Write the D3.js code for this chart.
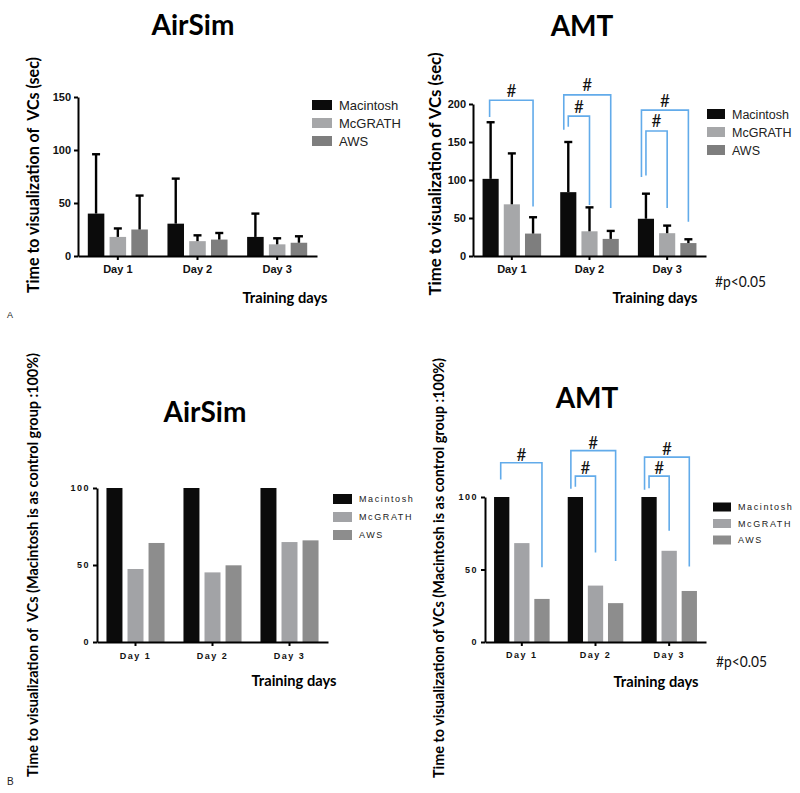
<!DOCTYPE html>
<html><head><meta charset="utf-8">
<script src="https://cdn.jsdelivr.net/npm/d3@7"></script>
<style>body{margin:0;background:#fff} svg{display:block}</style>
</head><body>
<svg id="chart" width="800" height="793"></svg>
<script>
// ---------- DATA ----------
const days = ["Day 1", "Day 2", "Day 3"];
const seriesNames = ["Macintosh", "McGRATH", "AWS"];

// Panel A: time to visualization of VCs (sec), mean and mean+SD
const airsimSecMac = [40, 30.5, 18];
const airsimSecMcG = [18, 14, 11];
const airsimSecAWS = [25, 15.5, 12.5];
const airsimSecMacErr = [96, 73, 40];
const airsimSecMcGErr = [26, 19.5, 16.7];
const airsimSecAWSErr = [57, 21.7, 18.6];

const amtSecMac = [101.5, 84, 49];
const amtSecMcG = [68, 32.5, 30];
const amtSecAWS = [29.5, 22.5, 17];
const amtSecMacErr = [176, 150, 82];
const amtSecMcGErr = [135, 64, 40];
const amtSecAWSErr = [51, 33, 22];

// Panel B: relative to Macintosh (100%)
const airsimPctMac = [100, 100, 100];
const airsimPctMcG = [47.4, 45.2, 64.9];
const airsimPctAWS = [64.3, 49.8, 66];

const amtPctMac = [100, 100, 100];
const amtPctMcG = [68.2, 38.9, 62.9];
const amtPctAWS = [29.7, 26.8, 35.2];

// significance brackets: [dayIndex, fromSeries, toSeries, topValue, leftEndValue, rightEndValue]
const amtSecBrackets = [
  [0, 0, 2, 205, 183, 65],
  [1, 0, 2, 212, 166, 63],
  [1, 0, 1, 184, 170, 67],
  [2, 0, 2, 192, 104, 45],
  [2, 0, 1, 164.5, 106, 63]
];
const amtPctBrackets = [
  [0, 0, 2, 123.6, 112, 51.5],
  [1, 0, 2, 132, 105.7, 55.8],
  [1, 0, 1, 114.4, 107, 61.8],
  [2, 0, 2, 127.5, 105, 52],
  [2, 0, 1, 114.4, 106, 76.7]
];

const yTicksA1 = [0, 50, 100, 150];
const yTicksA2 = [0, 50, 100, 150, 200];
const yTicksB = [0, 50, 100];

// ---------- DRAW ----------
const svg = d3.select("#chart");
const titleFont = "Lato, 'Open Sans', sans-serif";
const tickFont = "'Liberation Sans', Arial, sans-serif";

function panel(cfg) {
  const g = svg.append("g");
  const x = d3.scaleBand().domain(days).range([cfg.x0, cfg.x1]);
  const xi = d3.scaleBand().domain(seriesNames).range([0, x.bandwidth()])
    .paddingInner(0.24).paddingOuter(0.45);
  const y = d3.scaleLinear().domain([0, cfg.ymax]).range([cfg.yBase, cfg.yTop]);
  const cx = (di, si) => x(days[di]) + xi(seriesNames[si]) + xi.bandwidth() / 2;

  // bars
  cfg.values.forEach((vals, si) => {
    g.append("g").selectAll("rect").data(vals).join("rect")
      .attr("x", (d, i) => x(days[i]) + xi(seriesNames[si]))
      .attr("y", d => y(d))
      .attr("width", xi.bandwidth())
      .attr("height", d => y(0) - y(d))
      .attr("fill", cfg.colors[si]);
  });

  // error bars
  if (cfg.errs) {
    cfg.errs.forEach((errs, si) => {
      const eg = g.append("g").attr("stroke", "#000").attr("stroke-width", 2.4);
      errs.forEach((e, i) => {
        const xc = cx(i, si);
        eg.append("line").attr("x1", xc).attr("x2", xc)
          .attr("y1", y(cfg.values[si][i])).attr("y2", y(e));
        eg.append("line").attr("x1", xc - 4).attr("x2", xc + 4)
          .attr("y1", y(e)).attr("y2", y(e));
      });
    });
  }

  // axes
  const yAx = g.append("g").attr("transform", `translate(${cfg.x0},0)`)
    .call(d3.axisLeft(y).tickValues(cfg.yTicks).tickSize(4).tickSizeOuter(0).tickPadding(cfg.yPad));
  const xAx = g.append("g").attr("transform", `translate(0,${cfg.yBase})`)
    .call(d3.axisBottom(x).tickSize(4).tickSizeOuter(0).tickPadding(cfg.xPad));
  [yAx, xAx].forEach(a => {
    a.select(".domain").attr("stroke", "#000").attr("stroke-width", 2);
    a.selectAll(".tick line").attr("stroke", "#000").attr("stroke-width", 2);
    a.selectAll(".tick text").attr("fill", "#111")
      .style("font-family", tickFont).style("font-weight", "bold")
      .style("font-size", cfg.tickSize + "px")
      .style("letter-spacing", cfg.tickSpacing + "px");
  });

  // brackets
  if (cfg.brackets) {
    const bg = g.append("g");
    cfg.brackets.forEach(b => {
      const [di, from, to, top, yl, yr] = b;
      const multi = cfg.brackets.filter(c => c[0] === di).length > 1;
      let off = -1;
      if (multi) off = (to === 2) ? -4.5 : 0;
      const xl = cx(di, from) + off;
      const xr = cx(di, to) + (to === 2 ? 0 : 0);
      bg.append("path")
        .attr("d", `M${xl},${y(yl)}V${y(top)}H${xr}V${y(yr)}`)
        .attr("fill", "none").attr("stroke", "#62abea").attr("stroke-width", 1.6);
      bg.append("text").attr("x", (xl + xr) / 2).attr("y", y(top) - cfg.hashGap)
        .attr("text-anchor", "middle")
        .style("font-family", titleFont).style("font-size", "17px").attr("fill", "#111")
        .text("#");
    });
  }

  // legend
  const lg = g.append("g");
  seriesNames.forEach((s, i) => {
    const yc = cfg.leg.y + i * cfg.leg.dy;
    lg.append("rect").attr("x", cfg.leg.x).attr("y", yc - cfg.leg.h / 2)
      .attr("width", cfg.leg.w).attr("height", cfg.leg.h).attr("fill", cfg.colors[i]);
    lg.append("text").attr("x", cfg.leg.tx).attr("y", yc).attr("dy", "0.36em")
      .style("font-family", tickFont).style("font-size", cfg.leg.fs + "px")
      .style("letter-spacing", cfg.leg.ls + "px").attr("fill", "#222").text(s);
  });

  // title
  g.append("text").attr("x", cfg.title.x).attr("y", cfg.title.y).attr("text-anchor", "middle")
    .style("font-family", titleFont).style("font-weight", "bold").style("font-size", "28px")
    .attr("fill", "#000").text(cfg.title.text);

  // y label
  g.append("text")
    .attr("transform", `translate(${cfg.ylab.x},${cfg.ylab.y}) rotate(-90)`)
    .attr("text-anchor", "middle")
    .attr("textLength", cfg.ylab.len).attr("lengthAdjust", "spacingAndGlyphs")
    .style("font-family", titleFont).style("font-weight", "bold")
    .style("font-size", cfg.ylab.fs + "px").style("white-space", "pre")
    .attr("fill", "#000").text(cfg.ylab.text);

  // x label
  g.append("text").attr("x", cfg.xlab.x).attr("y", cfg.xlab.y).attr("text-anchor", "middle")
    .attr("textLength", 85).attr("lengthAdjust", "spacingAndGlyphs")
    .style("font-family", titleFont).style("font-weight", "bold").style("font-size", "16px")
    .attr("fill", "#000").text("Training days");

  if (cfg.pnote) {
    g.append("text").attr("x", cfg.pnote.x).attr("y", cfg.pnote.y)
      .attr("textLength", 51).attr("lengthAdjust", "spacingAndGlyphs")
      .style("font-family", titleFont).style("font-size", "15px")
      .attr("fill", "#111").text("#p<0.05");
  }
}

const colsA = ["#0b0b0b", "#a6a7a9", "#7e7e7e"];
const colsB = ["#0b0b0b", "#a2a3a6", "#8d8d8d"];

panel({
  x0: 78, x1: 317, yBase: 256, yTop: 97, ymax: 150, yTicks: yTicksA1, yPad: 3, xPad: 5,
  tickSize: 11, tickSpacing: 0,
  values: [airsimSecMac, airsimSecMcG, airsimSecAWS],
  errs: [airsimSecMacErr, airsimSecMcGErr, airsimSecAWSErr],
  colors: colsA,
  leg: { x: 312, y: 105, dy: 18, w: 20, h: 10, tx: 339, fs: 13, ls: 0 },
  title: { x: 193, y: 35, text: "AirSim" },
  ylab: { x: 39, y: 175, len: 236, fs: 17, text: "Time to visualization of  VCs (sec)" },
  xlab: { x: 285, y: 303 }
});

panel({
  x0: 473, x1: 706, yBase: 256, yTop: 104, ymax: 200, yTicks: yTicksA2, yPad: 3, xPad: 5,
  tickSize: 11, tickSpacing: 0,
  values: [amtSecMac, amtSecMcG, amtSecAWS],
  errs: [amtSecMacErr, amtSecMcGErr, amtSecAWSErr],
  brackets: amtSecBrackets, hashGap: 3.5,
  colors: colsA,
  leg: { x: 707, y: 114, dy: 18, w: 18, h: 10, tx: 732, fs: 12.5, ls: 0 },
  title: { x: 582, y: 36, text: "AMT" },
  ylab: { x: 441, y: 174, len: 243, fs: 17, text: "Time to visualization of VCs (sec)" },
  xlab: { x: 655, y: 303 },
  pnote: { x: 715, y: 287 }
});

panel({
  x0: 97, x1: 328, yBase: 642, yTop: 488, ymax: 100, yTicks: yTicksB, yPad: 3, xPad: 7,
  tickSize: 9, tickSpacing: 1.5,
  values: [airsimPctMac, airsimPctMcG, airsimPctAWS],
  colors: colsB,
  leg: { x: 333, y: 499, dy: 18, w: 19, h: 10, tx: 359, fs: 9, ls: 1.6 },
  title: { x: 205, y: 422, text: "AirSim" },
  ylab: { x: 38, y: 565, len: 424, fs: 15, text: "Time to visualization of  VCs (Macintosh is as control group :100%)" },
  xlab: { x: 294, y: 686 }
});

panel({
  x0: 485, x1: 706, yBase: 642, yTop: 497, ymax: 100, yTicks: yTicksB, yPad: 3, xPad: 6,
  tickSize: 9, tickSpacing: 1.5,
  values: [amtPctMac, amtPctMcG, amtPctAWS],
  brackets: amtPctBrackets, hashGap: 2,
  colors: colsB,
  leg: { x: 713, y: 507, dy: 16.5, w: 18, h: 9, tx: 738, fs: 9, ls: 1.6 },
  title: { x: 587, y: 408, text: "AMT" },
  ylab: { x: 444, y: 568, len: 420, fs: 15, text: "Time to visualization of VCs (Macintosh is as control group :100%)" },
  xlab: { x: 656, y: 687 },
  pnote: { x: 716, y: 667 }
});

// panel letters
svg.append("text").attr("x", 7).attr("y", 318).style("font-family", tickFont)
  .style("font-size", "9px").attr("fill", "#222").text("A");
svg.append("text").attr("x", 7).attr("y", 785).style("font-family", tickFont)
  .style("font-size", "10px").attr("fill", "#222").text("B");
</script>
</body></html>
